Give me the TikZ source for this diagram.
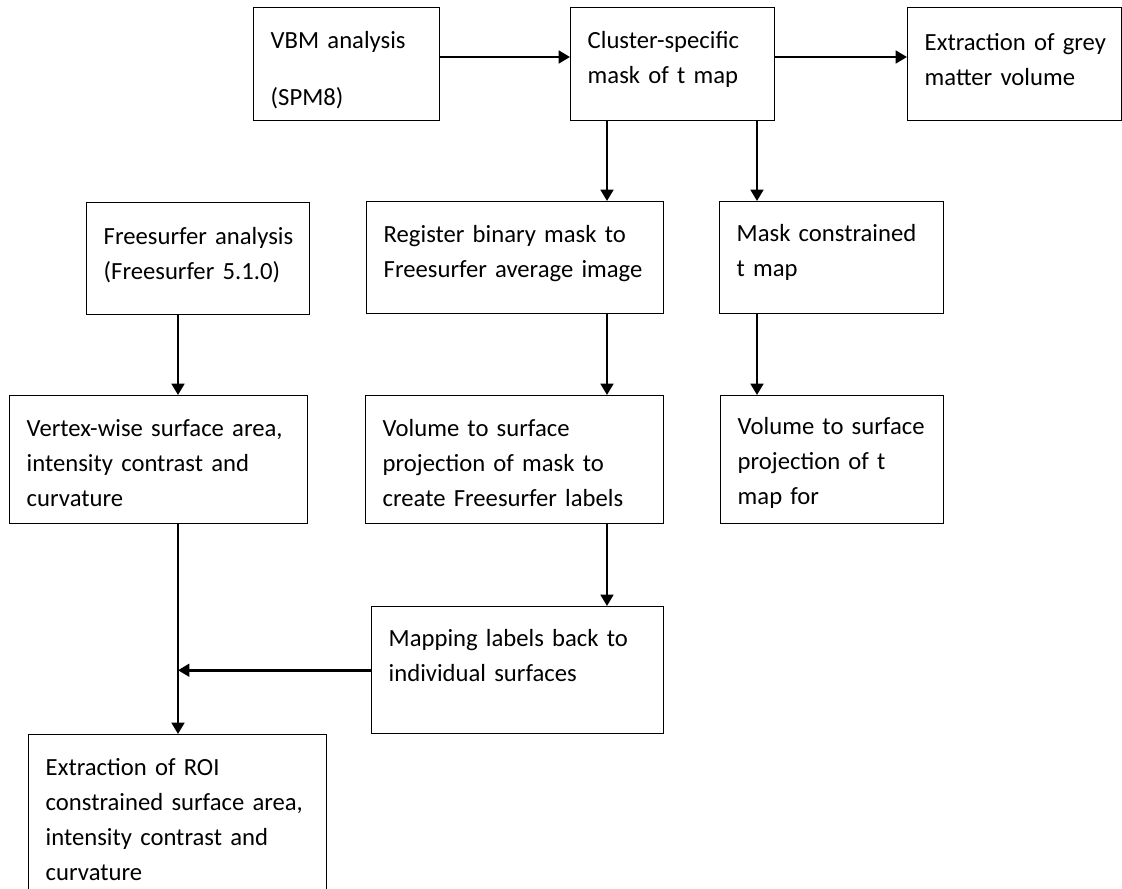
\documentclass[tikz,border=0pt]{standalone}
\usepackage{fontspec}
\setmainfont{Carlito}
\usetikzlibrary{arrows.meta}

\begin{document}
\begin{tikzpicture}[x=0.75pt, y=-0.75pt,
    font=\fontsize{18.5pt}{26.25pt}\selectfont,
    stage/.style={draw, line width=1.1pt, anchor=north west, align=left,
        inner xsep=12.75pt, inner ysep=0pt,
        execute at begin node={\rightskip=-40pt plus 1fil\relax}},
    nudge/.style={execute at end node={\endgraf\vspace*{#1}}},
    flow/.style={-{Triangle[length=8.5pt,width=9.5pt]}, line width=1.9pt}]
        \useasboundingbox (0,0) rectangle (1122,889);
        \clip (0,0) rectangle (1122,889);

        % top row
        \node[stage, nudge=-9pt, text width=114pt, minimum height=84.75pt](vbm)at(253,7){VBM analysis\\[17pt](SPM8)};
        \node[stage, nudge=7.5pt, text width=127.5pt, minimum height=84.75pt](cluster)at(570,7){Cluster-specific\\mask of t map};
        \node[stage, nudge=7.5pt, text width=135pt, minimum height=84.75pt](greyvol)at(907,7){Extraction of grey\\matter volume};

        % second row
        \node[stage, nudge=6pt, text width=141.75pt, minimum height=84pt](fsanalysis)at(86,202){Freesurfer analysis\\(Freesurfer 5.1.0)};
        \node[stage, nudge=6pt, text width=197.25pt, minimum height=84pt](register)at(366,201){Register binary mask to\\Freesurfer average image};
        \node[stage, nudge=7.5pt, text width=142.5pt, minimum height=84pt](masktmap)at(719,201){Mask constrained\\t map};

        % third row
        \node[stage, nudge=-4.5pt, text width=198pt, minimum height=96pt](vertex)at(9,395){Vertex-wise surface area,\\intensity contrast and\\curvature};
        \node[stage, nudge=-4.5pt, text width=198pt, minimum height=96pt](projmask)at(365,395){Volume to surface\\projection of mask to\\create Freesurfer labels};
        \node[stage, nudge=-4.5pt, text width=141.75pt, minimum height=96pt](projtmap)at(720,395){Volume to surface\\projection of t\\map for};

        % bottom
        \node[stage, nudge=22.5pt, text width=193.5pt, minimum height=95.25pt](mapping)at(371,606){Mapping labels back to\\individual surfaces};
        \node[stage, nudge=7.5pt, text width=198pt, minimum height=135pt](roi)at(28,734){Extraction of ROI\\constrained surface area,\\intensity contrast and\\curvature};

        \coordinate(toprow)at(0,57);
        \coordinate(colA)at(607,0);
        \coordinate(colB)at(757,0);
        \coordinate(colC)at(178,0);

        \draw[flow](vbm.east |- toprow)--(cluster.west |- toprow);
        \draw[flow](cluster.east |- toprow)--(greyvol.west |- toprow);
        \draw[flow](cluster.south -| colA)--(register.north -| colA);
        \draw[flow](cluster.south -| colB)--(masktmap.north -| colB);
        \draw[flow](register.south -| colA)--(projmask.north -| colA);
        \draw[flow](masktmap.south -| colB)--(projtmap.north -| colB);
        \draw[flow](projmask.south -| colA)--(mapping.north -| colA);
        \draw[flow](fsanalysis.south -| colC)--(vertex.north -| colC);
        \draw[flow](vertex.south -| colC)--(roi.north -| colC);
        \draw[flow](mapping.west)--(mapping.west -| colC);
\end{tikzpicture}
\end{document}
